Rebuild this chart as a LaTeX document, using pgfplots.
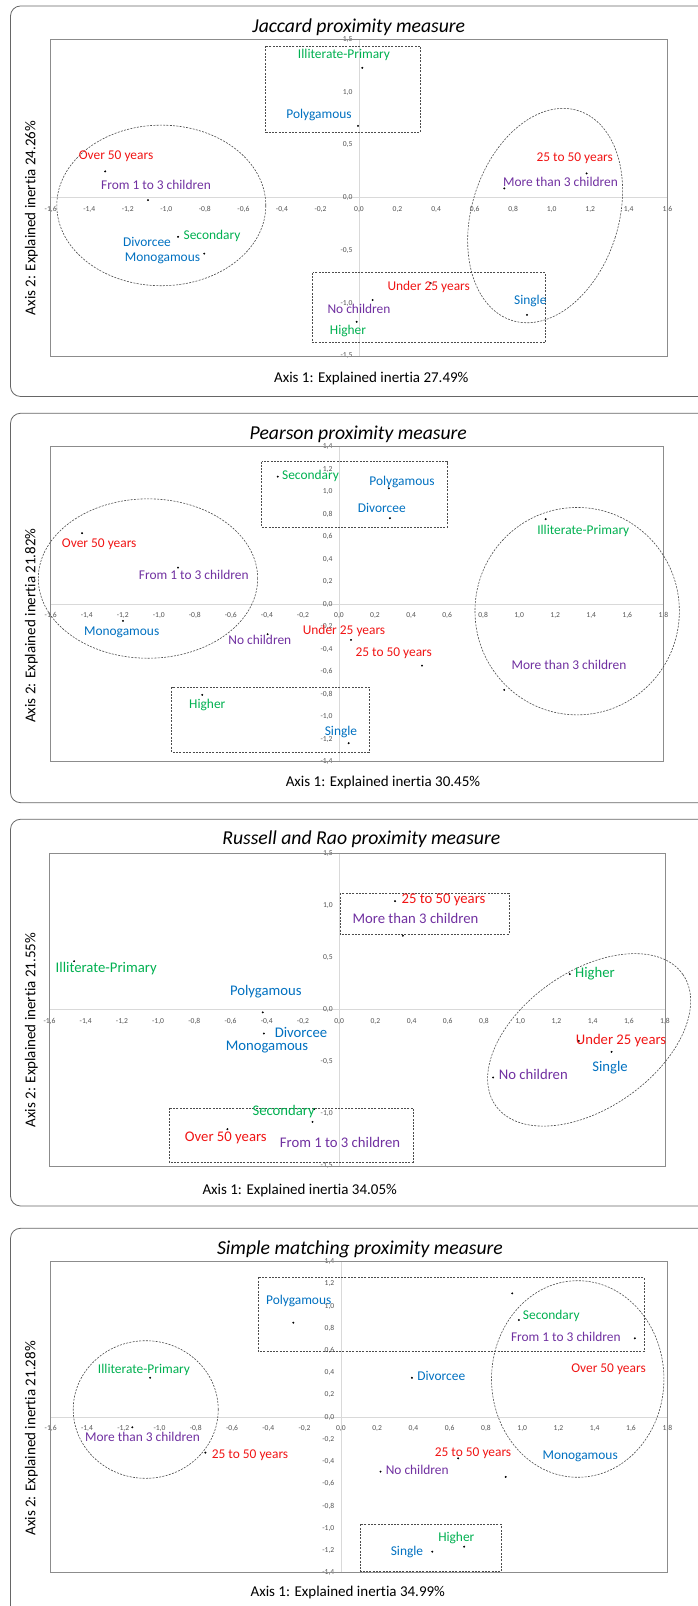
\documentclass[border=0pt]{standalone}
\usepackage{fontspec}
\setmainfont{Carlito}[Ligatures={NoCommon}]
\usepackage{pgfplots}
\pgfplotsset{compat=1.18}
\definecolor{cred}{RGB}{240,20,20}
\definecolor{cgreen}{RGB}{0,176,80}
\definecolor{cblue}{RGB}{0,112,192}
\definecolor{cpurple}{RGB}{112,48,160}
\pgfplotsset{
 ca/.style={
  scale only axis, anchor=north west,
  axis lines=middle, axis line style={draw=black!15, line width=0.6pt, -},
  enlargelimits=false, clip=false,
  major tick length=0pt, tick style={draw=none},
  ticklabel style={font=\fontsize{7.6}{8}\selectfont, text=black!68},
  xticklabel style={anchor=north, yshift=-5pt},
  yticklabel style={anchor=east, xshift=-3pt},
  hide obscured x ticks=false, hide obscured y ticks=false,
  /pgf/number format/fixed, /pgf/number format/fixed zerofill,
  /pgf/number format/precision=1, /pgf/number format/use comma,
  /pgf/number format/assume math mode=true,
 },
 dots/.style={only marks, mark=*, mark size=0.75pt, black},
}
\tikzset{
 dsh/.style={draw=black!70, line width=0.6pt, dash pattern=on 2pt off 1.3pt},
 bord/.style={draw=black!45, line width=0.8pt},
 frm/.style={draw=black!60, line width=0.8pt, rounded corners=10pt},
 lb/.style={anchor=mid, inner sep=0pt, font=\fontsize{13.4}{14}\selectfont},
 lc/.style={anchor=mid, inner sep=0pt, font=\fontsize{14.7}{15}\selectfont},
 tt/.style={anchor=base, inner sep=0pt, font=\fontsize{19.7}{20}\selectfont\itshape},
 al/.style={anchor=mid, inner sep=0pt, font=\fontsize{15}{16}\selectfont},
}
\begin{document}
\begin{tikzpicture}
\useasboundingbox (0,0) rectangle (697pt,1606pt);

% ---------------- Panel 1: Jaccard ----------------
\begin{axis}[ca, at={(50.7pt,1566.7pt)}, width=616.6pt, height=316.7pt,
  xmin=-1.6, xmax=1.6, ymin=-1.5, ymax=1.5,
  xtick={-1.6,-1.4,...,1.61}, ytick={-1.5,-1,...,1.51}]
\draw[bord] (rel axis cs:0,0) rectangle (rel axis cs:1,1);
\addplot[dots] table[row sep=\\] {x y\\
0.017 1.23\\ -0.005 0.68\\ -1.317 0.248\\ -1.095 -0.024\\ -0.939 -0.371\\
-0.803 -0.53\\ 1.181 0.229\\ 0.754 0.087\\ 0.372 -0.81\\ 0.071 -0.97\\
-0.012 -1.176\\ 0.872 -1.11\\};
\draw[dsh] (axis cs:-0.484,1.435) rectangle (axis cs:0.317,0.62);
\draw[dsh] (axis cs:-0.24,-0.712) rectangle (axis cs:0.967,-1.375);
\draw[dsh] (axis cs:-1.026,-0.074) ellipse [x radius=104.5pt, y radius=80.3pt];
\draw[dsh, rotate around={-17.6:(axis cs:0.966,-0.170)}] (axis cs:0.966,-0.170) ellipse [x radius=73.4pt, y radius=110pt];
\end{axis}

% ---------------- Panel 2: Pearson ----------------
\begin{axis}[ca, at={(50.7pt,1159.3pt)}, width=612.6pt, height=315pt,
  xmin=-1.6, xmax=1.8, ymin=-1.4, ymax=1.4,
  xtick={-1.6,-1.4,...,1.81}, ytick={-1.4,-1.2,...,1.41}]
\draw[bord] (rel axis cs:0,0) rectangle (rel axis cs:1,1);
\addplot[dots] table[row sep=\\] {x y\\
-0.34 1.134\\ 0.277 1.03\\ 0.283 0.764\\ 1.147 0.756\\ -1.426 0.631\\
-0.893 0.325\\ -1.199 -0.148\\ -0.396 -0.267\\ 0.067 -0.317\\ 0.461 -0.546\\
0.917 -0.762\\ -0.759 -0.806\\ 0.054 -1.236\\};
\draw[dsh] (axis cs:-0.429,1.268) rectangle (axis cs:0.601,0.684);
\draw[dsh] (axis cs:-0.928,-0.738) rectangle (axis cs:0.168,-1.316);
\draw[dsh] (axis cs:-1.06,0.228) ellipse [x radius=109.7pt, y radius=79.7pt];
\draw[dsh] (axis cs:1.322,-0.062) ellipse [x radius=102.2pt, y radius=103.7pt];
\end{axis}

% ---------------- Panel 3: Russell and Rao ----------------
\begin{axis}[ca, at={(49.5pt,752.7pt)}, width=615.5pt, height=312.7pt,
  xmin=-1.6, xmax=1.8, ymin=-1.5, ymax=1.5,
  xtick={-1.6,-1.4,...,1.81}, ytick={-1.5,-1,...,1.51}]
\draw[bord] (rel axis cs:0,0) rectangle (rel axis cs:1,1);
\addplot[dots] table[row sep=\\] {x y\\
-1.464 0.465\\ -0.422 -0.027\\ -0.416 -0.229\\ -0.138 -0.955\\ -0.147 -1.077\\
-0.617 -1.147\\ 0.309 1.041\\ 0.352 0.709\\ 1.274 0.341\\ 1.324 -0.30\\
1.505 -0.405\\ 0.851 -0.651\\};
\draw[dsh] (axis cs:0.004,1.115) rectangle (axis cs:0.938,0.721);
\draw[dsh] (axis cs:-0.941,-0.942) rectangle (axis cs:0.409,-1.461);
\draw[dsh, rotate around={35:(axis cs:1.381,-0.29)}] (axis cs:1.381,-0.29) ellipse [x radius=114.3pt, y radius=68.4pt];
\end{axis}

% ---------------- Panel 4: Simple matching ----------------
\begin{axis}[ca, at={(50.7pt,344.3pt)}, width=616.6pt, height=311pt,
  xmin=-1.6, xmax=1.8, ymin=-1.4, ymax=1.4,
  xtick={-1.6,-1.4,...,1.81}, ytick={-1.4,-1.2,...,1.41}]
\draw[bord] (rel axis cs:0,0) rectangle (rel axis cs:1,1);
\addplot[dots] table[row sep=\\] {x y\\
-0.262 0.851\\ -1.052 0.355\\ -1.15 -0.091\\ -0.747 -0.319\\ 0.392 0.355\\
0.982 0.875\\ 0.945 1.115\\ 1.621 0.71\\ 0.647 -0.37\\ 0.909 -0.538\\
0.219 -0.49\\ 0.68 -1.166\\ 0.504 -1.211\\};
\draw[dsh] (axis cs:-0.455,1.259) rectangle (axis cs:1.671,0.59);
\draw[dsh] (axis cs:0.109,-0.964) rectangle (axis cs:0.883,-1.39);
\draw[dsh] (axis cs:-1.076,0.069) ellipse [x radius=72.5pt, y radius=68.8pt];
\draw[dsh] (axis cs:1.306,0.344) ellipse [x radius=86.2pt, y radius=98.3pt];
\end{axis}

% ---------------- frames, titles and labels (pixel coordinates) ----------------
\begin{scope}[yshift=1606pt, x=1pt, y=-1pt]
\draw[frm] (10.5,6) rectangle (720,396.5);
\draw[frm] (10.5,413.3) rectangle (720,802.7);
\draw[frm] (10.5,819.3) rectangle (720,1206);
\draw[frm] (10.5,1228.3) rectangle (720,1640);

\node[tt] at (358.8,32.7) {Jaccard proximity measure};
\node[tt] at (358.3,439.3) {Pearson proximity measure};
\node[tt] at (361.3,845) {Russell and Rao proximity measure};
\node[tt] at (360,1254.3) {Simple matching proximity measure};

\node[al] at (371.3,380) {Axis 1: Explained inertia 27.49\%};
\node[al, rotate=90] at (33,218) {Axis 2: Explained inertia 24.26\%};
\node[al] at (383,784) {Axis 1: Explained inertia 30.45\%};
\node[al, rotate=90] at (33,625.6) {Axis 2: Explained inertia 21.82\%};
\node[al] at (299.7,1192.3) {Axis 1: Explained inertia 34.05\%};
\node[al, rotate=90] at (33,1030) {Axis 2: Explained inertia 21.55\%};
\node[al] at (347.8,1594) {Axis 1: Explained inertia 34.99\%};
\node[al, rotate=90] at (33,1438.3) {Axis 2: Explained inertia 21.28\%};

% panel 1
\node[lb, text=cgreen] at (344,55.7) {Illiterate-Primary};
\node[lb, text=cblue] at (319,116.3) {Polygamous};
\node[lb, text=cred] at (116,157.3) {Over 50 years};
\node[lb, text=cpurple] at (156,186.7) {From 1 to 3 children};
\node[lb, text=cgreen] at (212,236.7) {Secondary};
\node[lb, text=cblue] at (147,244.3) {Divorcee};
\node[lb, text=cblue] at (162.5,259.3) {Monogamous};
\node[lb, text=cred] at (574.7,158.7) {25 to 50 years};
\node[lb, text=cpurple] at (560.5,184.3) {More than 3 children};
\node[lb, text=cred] at (428.7,288.3) {Under 25 years};
\node[lb, text=cpurple] at (359,311) {No children};
\node[lb, text=cgreen] at (348,332.3) {Higher};
\node[lb, text=cblue] at (530.3,302) {Single};

% panel 2
\node[lb, text=cgreen] at (310.5,477.3) {Secondary};
\node[lb, text=cblue] at (402,483.3) {Polygamous};
\node[lb, text=cblue] at (381.8,510) {Divorcee};
\node[lb, text=cgreen] at (583.3,531.7) {Illiterate-Primary};
\node[lb, text=cred] at (99.2,545) {Over 50 years};
\node[lb, text=cpurple] at (193.8,577) {From 1 to 3 children};
\node[lb, text=cblue] at (121.7,633) {Monogamous};
\node[lb, text=cpurple] at (259.8,642) {No children};
\node[lb, text=cred] at (344,631.7) {Under 25 years};
\node[lb, text=cred] at (393.7,654.3) {25 to 50 years};
\node[lb, text=cpurple] at (569,667.3) {More than 3 children};
\node[lb, text=cgreen] at (207.3,706.3) {Higher};
\node[lb, text=cblue] at (341,733.3) {Single};

% panel 3
\node[lc, text=cgreen] at (106.2,970) {Illiterate-Primary};
\node[lc, text=cblue] at (265.8,992.7) {Polygamous};
\node[lc, text=cblue] at (301,1035) {Divorcee};
\node[lc, text=cblue] at (267,1048.3) {Monogamous};
\node[lc, text=cgreen] at (283.7,1112.7) {Secondary};
\node[lc, text=cred] at (225.8,1139) {Over 50 years};
\node[lc, text=cpurple] at (340,1145) {From 1 to 3 children};
\node[lc, text=cred] at (443.5,900.7) {25 to 50 years};
\node[lc, text=cpurple] at (415.5,920.7) {More than 3 children};
\node[lc, text=cgreen] at (595,975) {Higher};
\node[lc, text=cred] at (621,1042.3) {Under 25 years};
\node[lc, text=cblue] at (610,1068.7) {Single};
\node[lc, text=cpurple] at (533.3,1077.3) {No children};

% panel 4
\node[lb, text=cblue] at (298.7,1302.3) {Polygamous};
\node[lb, text=cgreen] at (144,1370.7) {Illiterate-Primary};
\node[lb, text=cpurple] at (142.5,1439.3) {More than 3 children};
\node[lb, text=cred] at (250,1456) {25 to 50 years};
\node[lb, text=cblue] at (441.3,1377.7) {Divorcee};
\node[lb, text=cgreen] at (551.3,1316.7) {Secondary};
\node[lb, text=cpurple] at (565.8,1339.3) {From 1 to 3 children};
\node[lb, text=cred] at (608.5,1370.3) {Over 50 years};
\node[lb, text=cred] at (473,1454) {25 to 50 years};
\node[lb, text=cblue] at (580.2,1456.7) {Monogamous};
\node[lb, text=cpurple] at (417.2,1471.7) {No children};
\node[lb, text=cgreen] at (456.3,1539) {Higher};
\node[lb, text=cblue] at (407,1553.3) {Single};
\end{scope}
\end{tikzpicture}
\end{document}
